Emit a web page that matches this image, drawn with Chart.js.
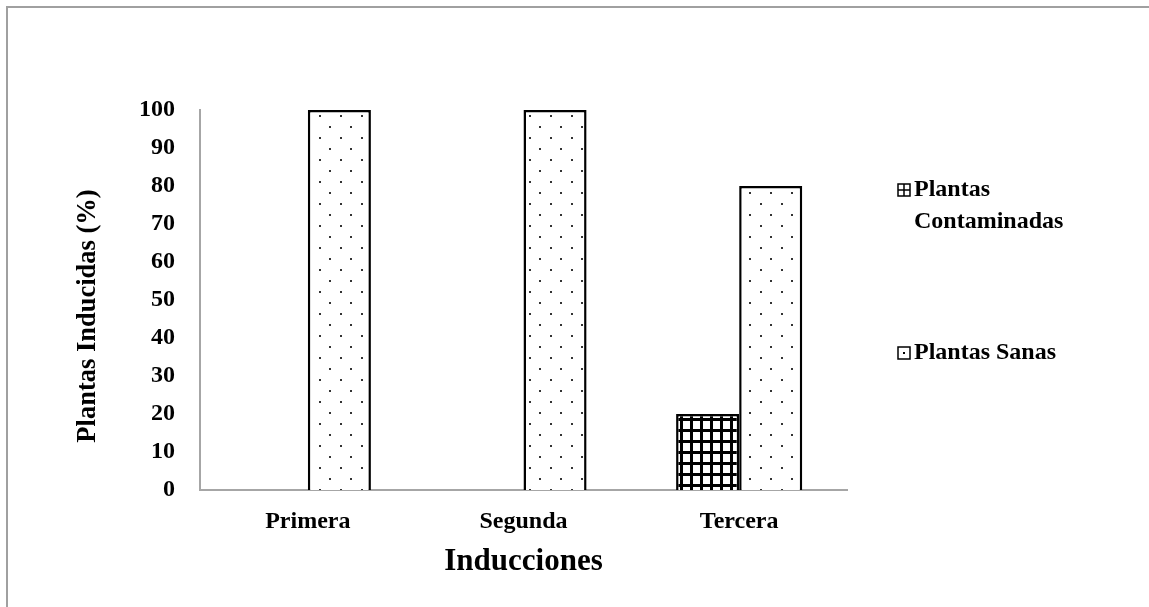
<!DOCTYPE html>
<html>
<head>
<meta charset="utf-8">
<script src="https://cdn.jsdelivr.net/npm/chart.js@4.4.1/dist/chart.umd.min.js"></script>
<style>
  html, body { margin: 0; padding: 0; background: #fff; overflow: hidden; }
  #wrap { position: relative; width: 1149px; height: 607px; }
  #frame { position: absolute; left: 6px; top: 6px; width: 1300px; height: 700px;
           border-top: 2px solid #a0a0a0; border-left: 2px solid #a0a0a0; }
  canvas { position: absolute; left: 0; top: 0; }
</style>
</head>
<body>
<div id="wrap">
  <div id="frame"></div>
  <canvas id="chart" width="1149" height="607"></canvas>
</div>
<script>
// data
const categories = ['Primera', 'Segunda', 'Tercera'];
const contaminadas = [0, 0, 20];
const sanas = [100, 100, 80];
const seriesNames = [['Plantas', 'Contaminadas'], ['Plantas Sanas']];
const yTicks = [0, 10, 20, 30, 40, 50, 60, 70, 80, 90, 100];
const yTitle = 'Plantas Inducidas (%)';

const serif = '"Liberation Serif", "Times New Roman", serif';

// grid hatch for the contaminated series
function gridPattern() {
    const c = document.createElement('canvas');
    c.width = 10; c.height = 11;
    const g = c.getContext('2d');
    g.fillStyle = '#fff';
    g.fillRect(0, 0, 10, 11);
    g.fillStyle = '#000';
    g.fillRect(0, 0, 3, 11);
    g.fillRect(0, 0, 10, 3);
    return document.getElementById('chart').getContext('2d').createPattern(c, 'repeat');
}

// sparse staggered dots for the healthy series
function dotPattern() {
    const c = document.createElement('canvas');
    c.width = 21; c.height = 22;
    const g = c.getContext('2d');
    g.fillStyle = '#fff';
    g.fillRect(0, 0, 21, 22);
    g.fillStyle = '#333';
    g.fillRect(4, 5, 2, 2);
    g.fillRect(14, 16, 2, 2);
    return document.getElementById('chart').getContext('2d').createPattern(c, 'repeat');
}

// legend on the right (first label wraps) + rotated y title
const sideLegend = {
    id: 'sideLegend',
    afterDraw(chart) {
        const ctx = chart.ctx;
        ctx.save();
        ctx.font = 'bold 24px ' + serif;
        ctx.textBaseline = 'middle';
        ctx.textAlign = 'left';
        const items = [{ y: 190, kind: 'grid' }, { y: 353, kind: 'dot' }];
        items.forEach((it, i) => {
            const bx = 898, by = it.y - 6, s = 12;
            ctx.fillStyle = '#fff';
            ctx.fillRect(bx, by, s, s);
            ctx.strokeStyle = '#000';
            ctx.lineWidth = 1.5;
            ctx.strokeRect(bx, by, s, s);
            ctx.fillStyle = '#000';
            if (it.kind === 'grid') {
                ctx.beginPath();
                ctx.moveTo(bx + s / 2, by); ctx.lineTo(bx + s / 2, by + s);
                ctx.moveTo(bx, by + s / 2); ctx.lineTo(bx + s, by + s / 2);
                ctx.stroke();
            } else {
                ctx.fillRect(bx + 5, by + 5, 2, 2);
            }
            seriesNames[i].forEach((line, j) => {
                ctx.fillText(line, 914, it.y + j * 32);
            });
        });

        ctx.translate(88, 316);
        ctx.rotate(-Math.PI / 2);
        ctx.textAlign = 'center';
        ctx.font = 'bold 26.5px ' + serif;
        ctx.fillText(yTitle, 0, 0);
        ctx.restore();
    }
};

new Chart(document.getElementById('chart'), {
    type: 'bar',
    data: {
        labels: categories,
        datasets: [{
            label: seriesNames[0].join(' '),
            data: contaminadas,
            backgroundColor: gridPattern(),
            borderColor: '#000',
            borderWidth: 2.5
        }, {
            label: seriesNames[1].join(' '),
            data: sanas,
            backgroundColor: dotPattern(),
            borderColor: '#000',
            borderWidth: 2.5
        }]
    },
    options: {
        responsive: false,
        animation: false,
        devicePixelRatio: 1,
        layout: { padding: { top: 110, right: 302, left: 0, bottom: 0 } },
        plugins: {
            legend: { display: false },
            tooltip: { enabled: false }
        },
        datasets: {
            bar: { barPercentage: 1, categoryPercentage: 0.585 }
        },
        scales: {
            x: {
                grid: { display: false, drawTicks: false },
                border: { display: true, color: '#a6a6a6', width: 2 },
                ticks: { color: '#000', font: { family: serif, size: 24, weight: 'bold' }, padding: 17 },
                title: {
                    display: true, text: 'Inducciones', color: '#000',
                    font: { family: serif, size: 31, weight: 'bold' },
                    padding: { top: 0, bottom: 26 }
                },
                afterFit(scale) { scale.height = 117; }
            },
            y: {
                min: 0, max: 100,
                afterBuildTicks(scale) { scale.ticks = yTicks.map(v => ({ value: v })); },
                grid: { display: false, drawTicks: false },
                border: { display: true, color: '#a6a6a6', width: 2 },
                ticks: { color: '#000', font: { family: serif, size: 24, weight: 'bold' }, padding: 25 },
                afterFit(scale) { scale.width = 200; }
            }
        }
    },
    plugins: [sideLegend]
});
</script>
</body>
</html>
